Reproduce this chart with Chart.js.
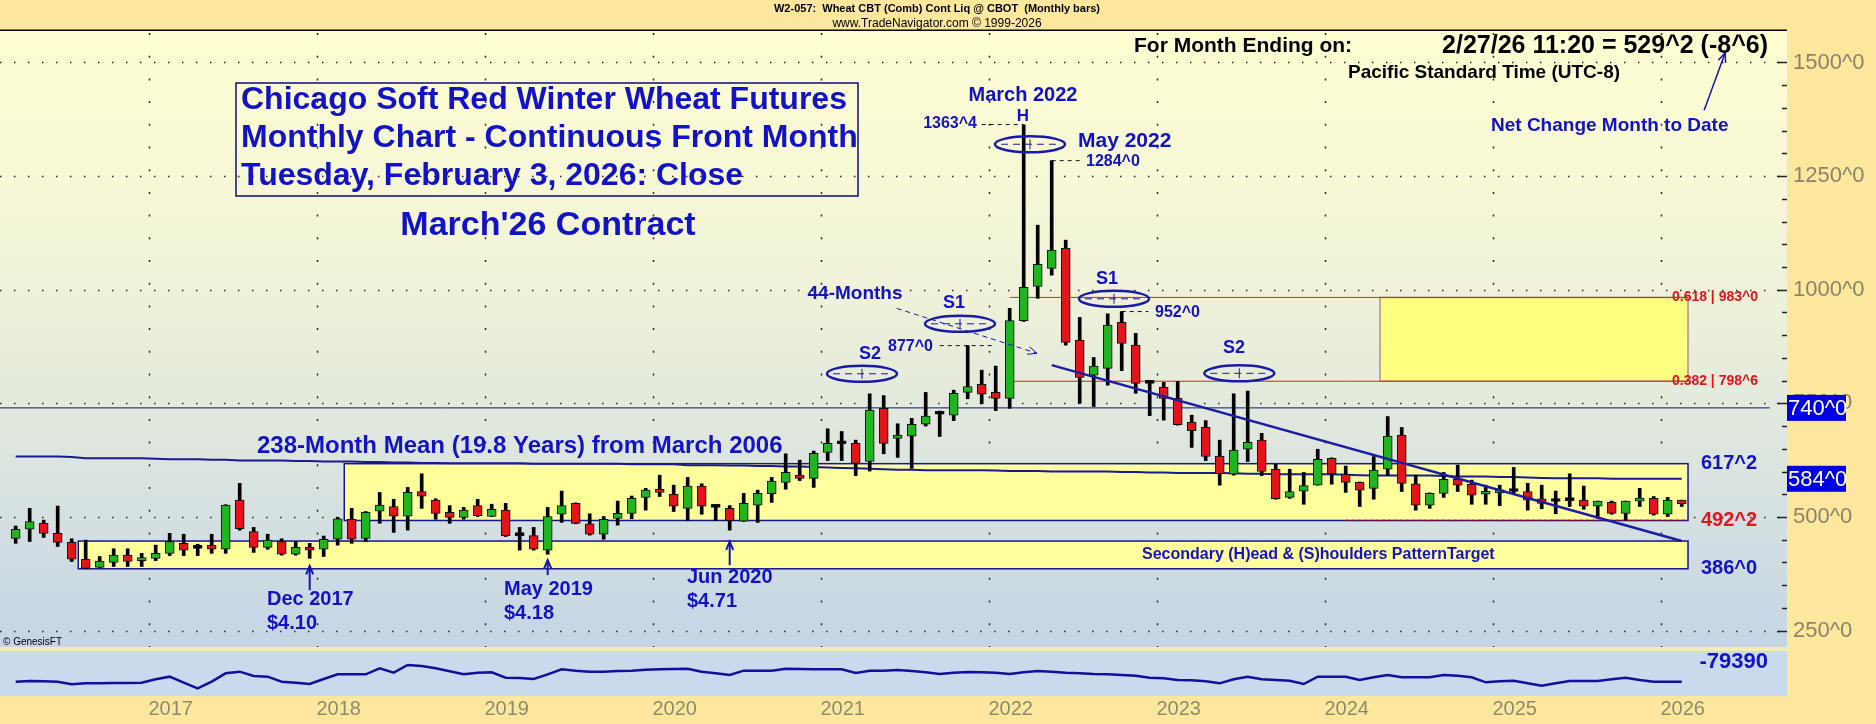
<!DOCTYPE html>
<html lang="en">
<head>
<meta charset="utf-8">
<title>Chicago SRW Wheat Futures - Monthly</title>
<script src="https://cdn.jsdelivr.net/npm/chart.js@4.4.1/dist/chart.umd.min.js"></script>
<style>
  html, body { margin: 0; padding: 0; background: #fce79c; overflow: hidden; }
  canvas { display: block; }
</style>
</head>
<body>
<canvas id="wheatChart" width="1876" height="724"></canvas>
<script>
// Wheat CBT continuous front month, monthly bars Mar 2016 - Feb 2026 (cents/bu)

const opens = [453, 473, 486, 464, 444, 407, 389, 400, 416, 404,
  409, 420, 442, 431, 438, 429, 537, 468, 433, 446,
  418, 433, 429, 451, 495, 453, 513, 523, 502, 556,
  537, 510, 499, 525, 501, 515, 459, 459, 427, 506,
  530, 485, 462, 497, 508, 543, 559, 550, 519, 568,
  521, 519, 491, 526, 551, 576, 592, 585, 642, 661,
  662, 622, 739, 673, 678, 704, 726, 724, 774, 792,
  774, 761, 932, 1007, 1047, 1091, 889, 812, 827, 928,
  878, 794, 785, 761, 708, 697, 634, 594, 649, 669,
  605, 543, 557, 570, 629, 594, 576, 563, 605, 680,
  573, 526, 552, 583, 572, 550, 553, 556, 556, 540,
  534, 536, 537, 524, 532, 508, 535, 541, 506, 537]

const highs = [480, 519, 493, 524, 452, 449, 413, 430, 430, 420,
  438, 464, 462, 440, 462, 527, 574, 477, 462, 452,
  446, 442, 458, 499, 519, 512, 554, 539, 565, 595,
  540, 525, 521, 539, 528, 530, 477, 477, 521, 557,
  531, 507, 501, 535, 546, 563, 592, 570, 587, 573,
  526, 525, 552, 559, 587, 639, 625, 645, 694, 688,
  669, 771, 767, 705, 717, 774, 733, 779, 877, 823,
  832, 959, 1363, 1142, 1284, 1109, 939, 851, 947, 952,
  904, 798, 796, 798, 724, 712, 669, 771, 777, 684,
  616, 605, 598, 649, 630, 612, 577, 633, 721, 697,
  592, 553, 598, 614, 581, 570, 570, 609, 574, 570,
  557, 595, 568, 535, 535, 535, 563, 545, 543, 537]

const lows = [442, 446, 455, 435, 402, 386, 388, 391, 391, 391,
  404, 415, 415, 415, 420, 420, 471, 422, 429, 416,
  416, 409, 413, 438, 442, 446, 486, 466, 471, 519,
  495, 486, 495, 501, 501, 457, 427, 427, 418, 488,
  485, 460, 451, 482, 496, 515, 545, 512, 492, 506,
  492, 471, 490, 488, 532, 561, 580, 565, 624, 624,
  591, 601, 639, 631, 607, 700, 677, 712, 760, 749,
  734, 739, 930, 981, 1032, 878, 750, 743, 790, 822,
  772, 723, 713, 702, 653, 624, 570, 592, 622, 591,
  539, 541, 528, 570, 572, 554, 523, 539, 592, 556,
  515, 519, 543, 556, 528, 528, 525, 552, 515, 518,
  507, 523, 517, 497, 506, 493, 523, 504, 501, 523]

const closes = [473, 490, 464, 444, 407, 387, 403, 416, 402, 408,
  420, 446, 427, 431, 429, 526, 474, 433, 449, 418,
  433, 427, 451, 496, 451, 510, 526, 502, 554, 546,
  508, 499, 515, 503, 517, 459, 459, 429, 501, 525,
  486, 462, 495, 508, 541, 559, 554, 524, 568, 524,
  521, 492, 530, 552, 579, 598, 585, 640, 662, 661,
  618, 735, 662, 680, 704, 722, 726, 772, 787, 770,
  761, 932, 1005, 1056, 1087, 884, 807, 832, 922, 882,
  794, 794, 761, 703, 690, 633, 595, 647, 664, 600,
  540, 556, 569, 627, 595, 576, 559, 603, 678, 574,
  526, 552, 583, 570, 548, 553, 559, 556, 537, 530,
  534, 536, 524, 535, 508, 535, 540, 506, 537, 529.25]

// 238-month mean
const mean238 = [633, 633, 633, 633, 632, 629, 629, 629, 629, 629,
  628, 627, 627, 627, 626, 626, 624, 624, 624, 624,
  623, 623, 622, 622, 622, 621, 621, 620, 620, 619,
  619, 618, 618, 618, 618, 618, 618, 617, 617, 617,
  617, 617, 617, 617, 616, 616, 616, 616, 614, 614,
  614, 613, 613, 612, 612, 611, 611, 610, 609, 608,
  607, 606, 605, 604, 604, 603, 603, 603, 603, 603,
  602, 601, 601, 601, 600, 600, 600, 600, 600, 599,
  599, 598, 598, 597, 597, 597, 597, 596, 595, 595,
  594, 594, 594, 594, 594, 593, 592, 591, 591, 591,
  591, 591, 590, 589, 589, 589, 588, 588, 587, 586,
  585, 585, 585, 585, 584, 584, 584, 584, 584, 584]

// lower panel line (net position)
const netPosition = [-79390, -74390, -76890, -79390, -99390, -91890, -91890, -89390, -89390, -86890,
  -61890, -41890, -86890, -129390, -79390, -16890, -4390, -36890, -41890, -79390,
  -86890, -96890, -59390, -24390, -24390, -24390, 20610, -11890, 45610, 38110,
  20610, -1890, -24390, -11890, -9390, -49390, -51890, -59390, -24390, 13110,
  3110, -4390, -4390, 610, 3110, 10610, 13110, 15610, 18110, -4390,
  -16890, -29390, 3110, 3110, 3110, 18110, 15610, 13110, 13110, 13110,
  -14390, 3110, 3110, 8110, 610, -9390, -21890, -11890, -6890, -9390,
  -11890, -21890, -9390, 610, -4390, -11890, -16890, -21890, -24390, -29390,
  -34390, -49390, -54390, -66890, -69390, -76890, -91890, -61890, -41890, -61890,
  -66890, -71890, -96890, -41890, -41890, -41890, -66890, -46890, -29390, -46890,
  -46890, -46890, -29390, -34390, -46890, -84390, -76890, -71890, -91890, -109390,
  -91890, -74390, -74390, -74390, -61890, -49390, -66890, -79390, -79390, -79390]

const priceTicks = [250, 500, 750, 1000, 1250, 1500]
const yearLabels = ['2017', '2018', '2019', '2020', '2021', '2022', '2023', '2024', '2025', '2026']

// reference levels
const resistance = 740
const meanBox = [617.25, 492.25]
const targetBox = [447, 386]
const fibBox = [983, 798.6]

const face = '"Liberation Sans", Arial, sans-serif'
const blue = '#1212c8'
const navy = '#16168e'
const red = '#e3141c'

const XMIN = -1.12
const XMAX = 126.52
const MAIN_BOTTOM = 647
const LOWER_TOP = 651

// month index of each year boundary (index 0 = Mar 2016)
const yearTicks = yearLabels.map(y => (Number(y) - 2016) * 12 - 2.5)

const bodyColors = opens.map((o, i) => closes[i] > o ? '#21b421' : closes[i] < o ? red : '#000')

function text(c, str, x, y, font, color, align) {
  c.font = font + ' ' + face
  c.fillStyle = color
  c.textAlign = align || 'left'
  c.textBaseline = 'middle'
  c.fillText(str, x, y)
}

function arrow(c, x0, y0, x1, y1, head) {
  const ang = Math.atan2(y1 - y0, x1 - x0)
  c.beginPath()
  c.moveTo(x0, y0)
  c.lineTo(x1, y1)
  c.stroke()
  c.setLineDash([])
  c.beginPath()
  c.moveTo(x1 - head * Math.cos(ang - 0.4), y1 - head * Math.sin(ang - 0.4))
  c.lineTo(x1, y1)
  c.lineTo(x1 - head * Math.cos(ang + 0.4), y1 - head * Math.sin(ang + 0.4))
  c.stroke()
}

// Panels and header

const panels = {
  id: 'panels',
  beforeDraw(chart) {
    const c = chart.ctx
    const a = chart.chartArea
    c.save()
    c.fillStyle = '#fce79c'
    c.fillRect(0, 0, chart.width, chart.height)

    let grad = c.createLinearGradient(0, a.top, 0, MAIN_BOTTOM)
    grad.addColorStop(0, '#ffffd2')
    grad.addColorStop(0.45, '#eef1d9')
    grad.addColorStop(1, '#c5d5e6')
    c.fillStyle = grad
    c.fillRect(a.left, a.top, a.right - a.left, MAIN_BOTTOM - a.top)

    c.fillStyle = '#f3ecb4'
    c.fillRect(a.left, MAIN_BOTTOM, a.right - a.left, LOWER_TOP - MAIN_BOTTOM)
    c.fillStyle = '#c9daec'
    c.fillRect(a.left, LOWER_TOP, a.right - a.left, a.bottom - LOWER_TOP)

    c.fillStyle = '#000'
    c.fillRect(a.left, a.top - 1.5, a.right - a.left, 1.5)

    text(c, 'W2-057:  Wheat CBT (Comb) Cont Liq @ CBOT  (Monthly bars)', 937, 9, 'bold 11px', '#000', 'center')
    text(c, 'www.TradeNavigator.com \u00a9 1999-2026', 937, 24, '12px', '#000', 'center')
    c.restore()
  },

  beforeDatasetsDraw(chart) {
    const c = chart.ctx
    const a = chart.chartArea
    const x = chart.scales.x
    const y = chart.scales.y
    c.save()

    // dotted grid
    c.strokeStyle = '#2a2a2a'
    c.lineWidth = 1.5
    c.setLineDash([1.5, 12.5])
    priceTicks.forEach(p => {
      const yy = Math.round(y.getPixelForValue(p)) + 0.5
      c.beginPath()
      c.moveTo(a.left, yy)
      c.lineTo(a.right, yy)
      c.stroke()
    })
    c.setLineDash([2, 20.7])
    yearTicks.forEach(v => {
      const xx = Math.round(x.getPixelForValue(v)) + 0.5
      c.beginPath()
      c.moveTo(xx, a.top + 2)
      c.lineTo(xx, MAIN_BOTTOM)
      c.stroke()
    })
    c.setLineDash([])

    // boxes
    const box = (i0, i1, top, bottom, fill, stroke) => {
      const x0 = x.getPixelForValue(i0)
      const x1 = x.getPixelForValue(i1)
      const y0 = y.getPixelForValue(top)
      const y1 = y.getPixelForValue(bottom)
      c.fillStyle = fill
      c.fillRect(x0, y0, x1 - x0, y1 - y0)
      c.strokeStyle = stroke
      c.lineWidth = 1.5
      c.strokeRect(x0, y0, x1 - x0, y1 - y0)
    }
    box(23.47, 119.45, meanBox[0], meanBox[1], '#ffff9c', navy)
    box(4.47, 119.45, targetBox[0], targetBox[1], '#ffff9c', navy)
    box(97.45, 119.45, fibBox[0], fibBox[1], '#ffff80', '#b88a8a')
    c.restore()
  },

  afterDatasetsDraw(chart) {
    const c = chart.ctx
    const a = chart.chartArea
    const x = chart.scales.x
    const y = chart.scales.y
    c.save()

    // shoulder / head ellipses
    const ellipses = [
      { i: 60.45, p: 815 },
      { i: 67.45, p: 925 },
      { i: 72.45, p: 1320 },
      { i: 78.45, p: 980 },
      { i: 87.4, p: 816 },
    ]
    ellipses.forEach(e => {
      const cx = x.getPixelForValue(e.i)
      const cy = y.getPixelForValue(e.p)
      const rx = x.getPixelForValue(e.i + 2.5) - cx
      const ry = y.getPixelForValue(e.p - 17.6) - cy
      c.strokeStyle = '#1a1aa8'
      c.lineWidth = 2.5
      c.beginPath()
      c.ellipse(cx, cy, rx, ry, 0, 0, Math.PI * 2)
      c.stroke()
      c.lineWidth = 1
      c.setLineDash([7, 5])
      c.beginPath()
      c.moveTo(cx - rx + 6, cy)
      c.lineTo(cx + rx - 6, cy)
      c.stroke()
      c.setLineDash([])
      c.beginPath()
      c.moveTo(cx, cy - 5)
      c.lineTo(cx, cy + 5)
      c.stroke()
    })

    // pointer arrows under the lows
    c.strokeStyle = '#1414b4'
    c.lineWidth = 2
    ;[[21, 339, 392], [38, 372, 405], [51, 394, 446]].forEach(([i, p0, p1]) => {
      const xx = x.getPixelForValue(i)
      arrow(c, xx, y.getPixelForValue(p0), xx, y.getPixelForValue(p1), 9)
    })

    // 44 months arrow
    c.lineWidth = 1
    c.setLineDash([5, 4])
    arrow(c, x.getPixelForValue(62.93), y.getPixelForValue(959), x.getPixelForValue(72.95), y.getPixelForValue(860), 10)

    // net change arrow
    c.lineWidth = 1.5
    arrow(c, x.getPixelForValue(120.6), y.getPixelForValue(1395), x.getPixelForValue(122.1), y.getPixelForValue(1521), 10)

    // title box
    c.strokeStyle = '#0c0c7c'
    c.lineWidth = 1.5
    c.strokeRect(236, 83, 622, 113)
    text(c, 'Chicago Soft Red Winter Wheat Futures', 241, 100, 'bold 32px', blue)
    text(c, 'Monthly Chart - Continuous Front Month', 241, 138, 'bold 32px', blue)
    text(c, 'Tuesday, February 3, 2026: Close', 241, 176, 'bold 32px', blue)
    text(c, "March'26 Contract", 548, 226, 'bold 34px', blue, 'center')

    text(c, 'For Month Ending on:', 1134, 46, 'bold 21px', '#000')
    text(c, '2/27/26 11:20 = 529^2 (-8^6)', 1768, 46, 'bold 25px', '#000', 'right')
    text(c, 'Pacific Standard Time (UTC-8)', 1348, 73, 'bold 19px', '#000')
    text(c, 'Net Change Month to Date', 1491, 126, 'bold 19px', blue)

    text(c, 'March 2022', 1023, 95, 'bold 20px', blue, 'center')
    text(c, 'H', 1023, 116, 'bold 17px', blue, 'center')
    text(c, '1363^4', 977, 124, 'bold 16px', blue, 'right')
    text(c, 'May 2022', 1078, 141, 'bold 21px', blue)
    text(c, '1284^0', 1086, 162, 'bold 16px', blue)
    text(c, 'S1', 1107, 279, 'bold 18px', blue, 'center')
    text(c, '952^0', 1155, 313, 'bold 16px', blue)
    text(c, '44-Months', 855, 294, 'bold 19px', blue, 'center')
    text(c, 'S1', 954, 303, 'bold 18px', blue, 'center')
    text(c, '877^0', 933, 347, 'bold 16px', blue, 'right')
    text(c, 'S2', 870, 354, 'bold 18px', blue, 'center')
    text(c, 'S2', 1234, 348, 'bold 18px', blue, 'center')

    text(c, '238-Month Mean (19.8 Years) from March 2006', 257, 446, 'bold 24px', blue)
    text(c, 'Secondary (H)ead & (S)houlders PatternTarget', 1142, 555, 'bold 16px', blue)

    text(c, 'Dec 2017', 267, 599, 'bold 20px', blue)
    text(c, '$4.10', 267, 623, 'bold 20px', blue)
    text(c, 'May 2019', 504, 589, 'bold 20px', blue)
    text(c, '$4.18', 504, 613, 'bold 20px', blue)
    text(c, 'Jun 2020', 687, 577, 'bold 20px', blue)
    text(c, '$4.71', 687, 601, 'bold 20px', blue)

    text(c, '617^2', 1701, y.getPixelForValue(meanBox[0]), 'bold 20px', blue)
    text(c, '492^2', 1701, y.getPixelForValue(meanBox[1]), 'bold 20px', red)
    text(c, '386^0', 1701, y.getPixelForValue(targetBox[1]), 'bold 20px', blue)
    text(c, '0.618 | 983^0', 1758, y.getPixelForValue(fibBox[0]), 'bold 14px', red, 'right')
    text(c, '0.382 | 798^6', 1758, y.getPixelForValue(fibBox[1]), 'bold 14px', red, 'right')

    text(c, String(netPosition[netPosition.length - 1]), 1768, 662, 'bold 22px', blue, 'right')
    text(c, '\u00a9 GenesisFT', 3, 642, '10px', '#000')

    // right axis tick marks
    c.strokeStyle = '#222'
    c.lineWidth = 1.5
    for (let p = 250; p <= 1500; p += 50) {
      const yy = Math.round(y.getPixelForValue(p)) + 0.5
      const len = p % 250 === 0 ? 10 : 5
      c.beginPath()
      c.moveTo(a.right - len, yy)
      c.lineTo(a.right, yy)
      c.stroke()
    }

    // value boxes on the axis
    const valueBox = (p, label) => {
      const yy = y.getPixelForValue(p)
      c.fillStyle = '#0000e0'
      c.fillRect(a.right, yy - 13, 59, 26)
      text(c, label, a.right + 1, yy + 1, '22px', '#fff')
    }
    valueBox(resistance, resistance + '^0')
    const lastMean = mean238[mean238.length - 1]
    valueBox(lastMean, Math.round(lastMean) + '^0')
    c.restore()
  }
}

// Datasets

const monthIdx = opens.map((_, i) => i)

const flatLine = (i0, i1, p, color, width, dash) => ({
  type: 'line',
  data: [{ x: i0, y: p }, { x: i1, y: p }],
  borderColor: color,
  borderWidth: width,
  borderDash: dash || [],
  pointRadius: 0,
  order: 3,
})

const leaders = [[69, 72, 1363.4], [74, 76, 1284], [79, 80.9, 952], [66, 69.8, 877]]

let ctxWheat = document.getElementById('wheatChart')

new Chart(ctxWheat, {
  type: 'bar',
  data: {
    datasets: [
      {
        label: 'Wick',
        data: monthIdx.map(i => ({ x: i, y: [lows[i], highs[i]] })),
        backgroundColor: '#000',
        barThickness: 3,
        grouped: false,
        order: 2,
      },
      {
        label: 'Body',
        data: monthIdx.map(i => ({ x: i, y: [opens[i], closes[i]] })),
        backgroundColor: bodyColors,
        borderColor: '#111',
        borderWidth: 1,
        borderSkipped: false,
        barThickness: 9,
        minBarLength: 3,
        grouped: false,
        order: 1,
      },
      {
        type: 'line',
        label: '238-Month Mean',
        data: monthIdx.map(i => ({ x: i, y: mean238[i] })),
        borderColor: '#1a1a92',
        borderWidth: 2,
        pointRadius: 0,
        order: 3,
      },
      {
        type: 'line',
        label: 'Trend',
        data: [{ x: 74, y: 834 }, { x: 119, y: 447 }],
        borderColor: '#1c1ca4',
        borderWidth: 2.5,
        pointRadius: 0,
        order: 0,
      },
      {
        type: 'line',
        label: 'Net position',
        yAxisID: 'yInd',
        data: monthIdx.map(i => ({ x: i, y: netPosition[i] })),
        borderColor: '#10109c',
        borderWidth: 2.5,
        pointRadius: 0,
        order: 3,
      },
      flatLine(XMIN, 125.3, resistance, '#14148a', 1),
      flatLine(71, 119.45, fibBox[0], '#e02020', 1),
      flatLine(71, 119.45, fibBox[1], '#e02020', 1),
      flatLine(95, 119.45, meanBox[1], '#a0102c', 1.5, [3, 3]),
      ...leaders.map(l => flatLine(l[0], l[1], l[2], '#111', 1, [4, 4])),
    ]
  },
  options: {
    responsive: false,
    devicePixelRatio: 1,
    animation: false,
    events: [],
    layout: { padding: { top: 31, left: 0, right: 0, bottom: 0 } },
    plugins: {
      legend: { display: false },
      tooltip: { enabled: false },
    },
    scales: {
      x: {
        type: 'linear',
        min: XMIN,
        max: XMAX,
        offset: false,
        afterFit(scale) { scale.height = 28 },
        afterBuildTicks(scale) { scale.ticks = yearTicks.map(v => ({ value: v })) },
        ticks: {
          callback: (v, index) => yearLabels[index],
          labelOffset: 22,
          padding: 1,
          maxRotation: 0,
          autoSkip: false,
          color: '#8f8a6e',
          font: { family: face, size: 20 },
        },
        grid: { display: false, drawTicks: false },
        border: { display: false },
      },
      y: {
        position: 'right',
        min: 106.1,
        max: 1569.2,
        afterFit(scale) { scale.width = 89 },
        afterBuildTicks(scale) { scale.ticks = priceTicks.map(v => ({ value: v })) },
        ticks: {
          callback: v => v + '^0',
          padding: 6,
          color: '#8a846c',
          font: { family: face, size: 22 },
        },
        grid: { display: false, drawTicks: false },
        border: { display: false },
      },
      yInd: {
        type: 'linear',
        display: false,
        min: -186890,
        max: 4800610,
      },
    },
  },
  plugins: [panels],
});
</script>
</body>
</html>
